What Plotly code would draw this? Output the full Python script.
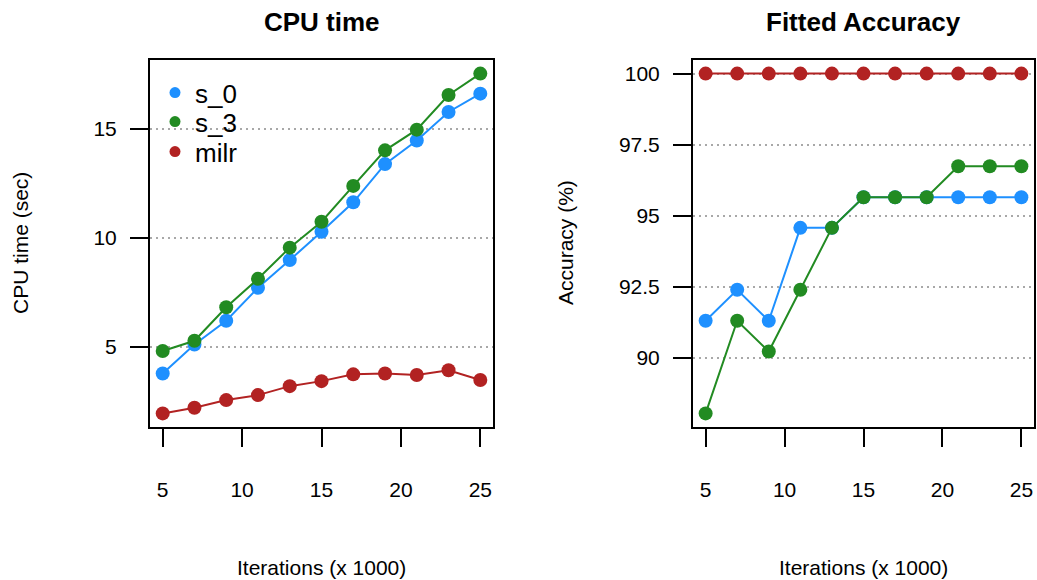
import plotly.graph_objects as go

# ---- data ----
iterations = [5, 7, 9, 11, 13, 15, 17, 19, 21, 23, 25]
cpu_s0 = [3.79, 5.12, 6.21, 7.72, 8.99, 10.29, 11.64, 13.39, 14.47, 15.78, 16.62]
cpu_s3 = [4.82, 5.29, 6.83, 8.13, 9.56, 10.75, 12.39, 14.02, 14.97, 16.56, 17.54]
cpu_milr = [1.96, 2.22, 2.57, 2.80, 3.21, 3.44, 3.75, 3.79, 3.72, 3.94, 3.49]

acc_s0 = [91.30, 92.39, 91.30, 94.57, 94.57, 95.65, 95.65, 95.65, 95.65, 95.65, 95.65]
acc_s3 = [88.04, 91.30, 90.22, 92.39, 94.57, 95.65, 95.65, 95.65, 96.74, 96.74, 96.74]
acc_milr = [100, 100, 100, 100, 100, 100, 100, 100, 100, 100, 100]

series_names = ["s_0", "s_3", "milr"]
series_colors = ["#1E90FF", "#228B22", "#B22222"]

x_ticks = [5, 10, 15, 20, 25]
cpu_ticks = [5, 10, 15]
acc_ticks = [90, 92.5, 95, 97.5, 100]
acc_tick_labels = ["90", "92.5", "95", "97.5", "100"]

titles = ["CPU time", "Fitted Accuracy"]
x_label = "Iterations (x 1000)"
y_labels = ["CPU time (sec)", "Accuracy (%)"]

FONT = "Liberation Sans, Arial, sans-serif"
W, H = 1037, 580


def rrange(vals):
    lo, hi = min(vals), max(vals)
    d = (hi - lo) * 0.04
    return [lo - d, hi + d]


fig = go.Figure()

cpu_data = [cpu_s0, cpu_s3, cpu_milr]
acc_data = [acc_s0, acc_s3, acc_milr]

for vals, name, col in zip(cpu_data, series_names, series_colors):
    fig.add_trace(go.Scatter(x=iterations, y=vals, mode="lines+markers", name=name,
                             line=dict(color=col, width=2), marker=dict(color=col, size=14),
                             showlegend=False, xaxis="x", yaxis="y"))
for vals, name, col in zip(acc_data, series_names, series_colors):
    fig.add_trace(go.Scatter(x=iterations, y=vals, mode="lines+markers", name=name,
                             line=dict(color=col, width=2), marker=dict(color=col, size=14),
                             showlegend=False, xaxis="x2", yaxis="y2"))
# legend entries (dots only, as in the original), one legend per row
legend_ids = ["legend", "legend2", "legend3"]
for name, col, lid in zip(series_names, series_colors, legend_ids):
    fig.add_trace(go.Scatter(x=[None], y=[None], mode="markers", name=name,
                             marker=dict(color=col, size=11), showlegend=True,
                             legend=lid, xaxis="x", yaxis="y"))

all_cpu = cpu_s0 + cpu_s3 + cpu_milr
all_acc = acc_s0 + acc_s3 + acc_milr

ytop = 1 - 60 / H
ybot = 1 - 427 / H

xcommon = dict(range=rrange(iterations), tickvals=x_ticks, ticks="outside", ticklen=18,
               tickwidth=2, tickcolor="black", showline=True, linewidth=2, linecolor="black",
               mirror=True, showgrid=False, zeroline=False,
               tickfont=dict(family=FONT, size=21, color="black"),
               ticklabelstandoff=25)
ycommon = dict(ticks="outside", ticklen=18, tickwidth=2, tickcolor="black", showline=True,
               linewidth=2, linecolor="black", mirror=True, showgrid=True,
               gridcolor="#a8a8a8", griddash="2px,4px", gridwidth=1.6, zeroline=False,
               tickfont=dict(family=FONT, size=21, color="black"), ticklabelstandoff=9)

legend_rows = [92.7, 121.7, 151.7]
legends = {}
for lid, yc in zip(legend_ids, legend_rows):
    legends[lid] = dict(x=155 / W, y=1 - yc / H, xanchor="left", yanchor="middle",
                        bgcolor="rgba(0,0,0,0)", borderwidth=0,
                        font=dict(family=FONT, size=26, color="black"),
                        itemsizing="trace")

annotations = [
    dict(text="<b>%s</b>" % titles[0], x=(150 + 493) / 2 / W, y=1 - 22 / H),
    dict(text="<b>%s</b>" % titles[1], x=(693 + 1034) / 2 / W, y=1 - 22 / H),
]
for a in annotations:
    a["font"] = dict(family=FONT, size=26, color="black")
annotations += [
    dict(text=x_label, x=(150 + 493) / 2 / W, y=1 - 567 / H,
         font=dict(family=FONT, size=21, color="black")),
    dict(text=x_label, x=(693 + 1034) / 2 / W, y=1 - 567 / H,
         font=dict(family=FONT, size=21, color="black")),
    dict(text=y_labels[0], x=20 / W, y=1 - 243 / H, textangle=-90,
         font=dict(family=FONT, size=21, color="black")),
    dict(text=y_labels[1], x=565 / W, y=1 - 243 / H, textangle=-90,
         font=dict(family=FONT, size=21, color="black")),
]
for a in annotations:
    a.update(xref="paper", yref="paper", showarrow=False, xanchor="center", yanchor="middle")

fig.update_layout(
    width=W, height=H,
    margin=dict(l=0, r=0, t=0, b=0),
    paper_bgcolor="white", plot_bgcolor="white",
    font=dict(family=FONT, color="black"),
    xaxis=dict(domain=[150 / W, 493 / W], anchor="y", **xcommon),
    xaxis2=dict(domain=[693 / W, 1034 / W], anchor="y2", **xcommon),
    yaxis=dict(domain=[ybot, ytop], anchor="x", range=rrange(all_cpu), tickvals=cpu_ticks,
               **ycommon),
    yaxis2=dict(domain=[ybot, ytop], anchor="x2", range=rrange(all_acc), tickvals=acc_ticks,
                ticktext=acc_tick_labels, **ycommon),
    showlegend=True,
    annotations=annotations,
    **legends,
)

fig.write_html("out.html", config={"displayModeBar": False},
               post_script="document.body.style.margin='0px';")
